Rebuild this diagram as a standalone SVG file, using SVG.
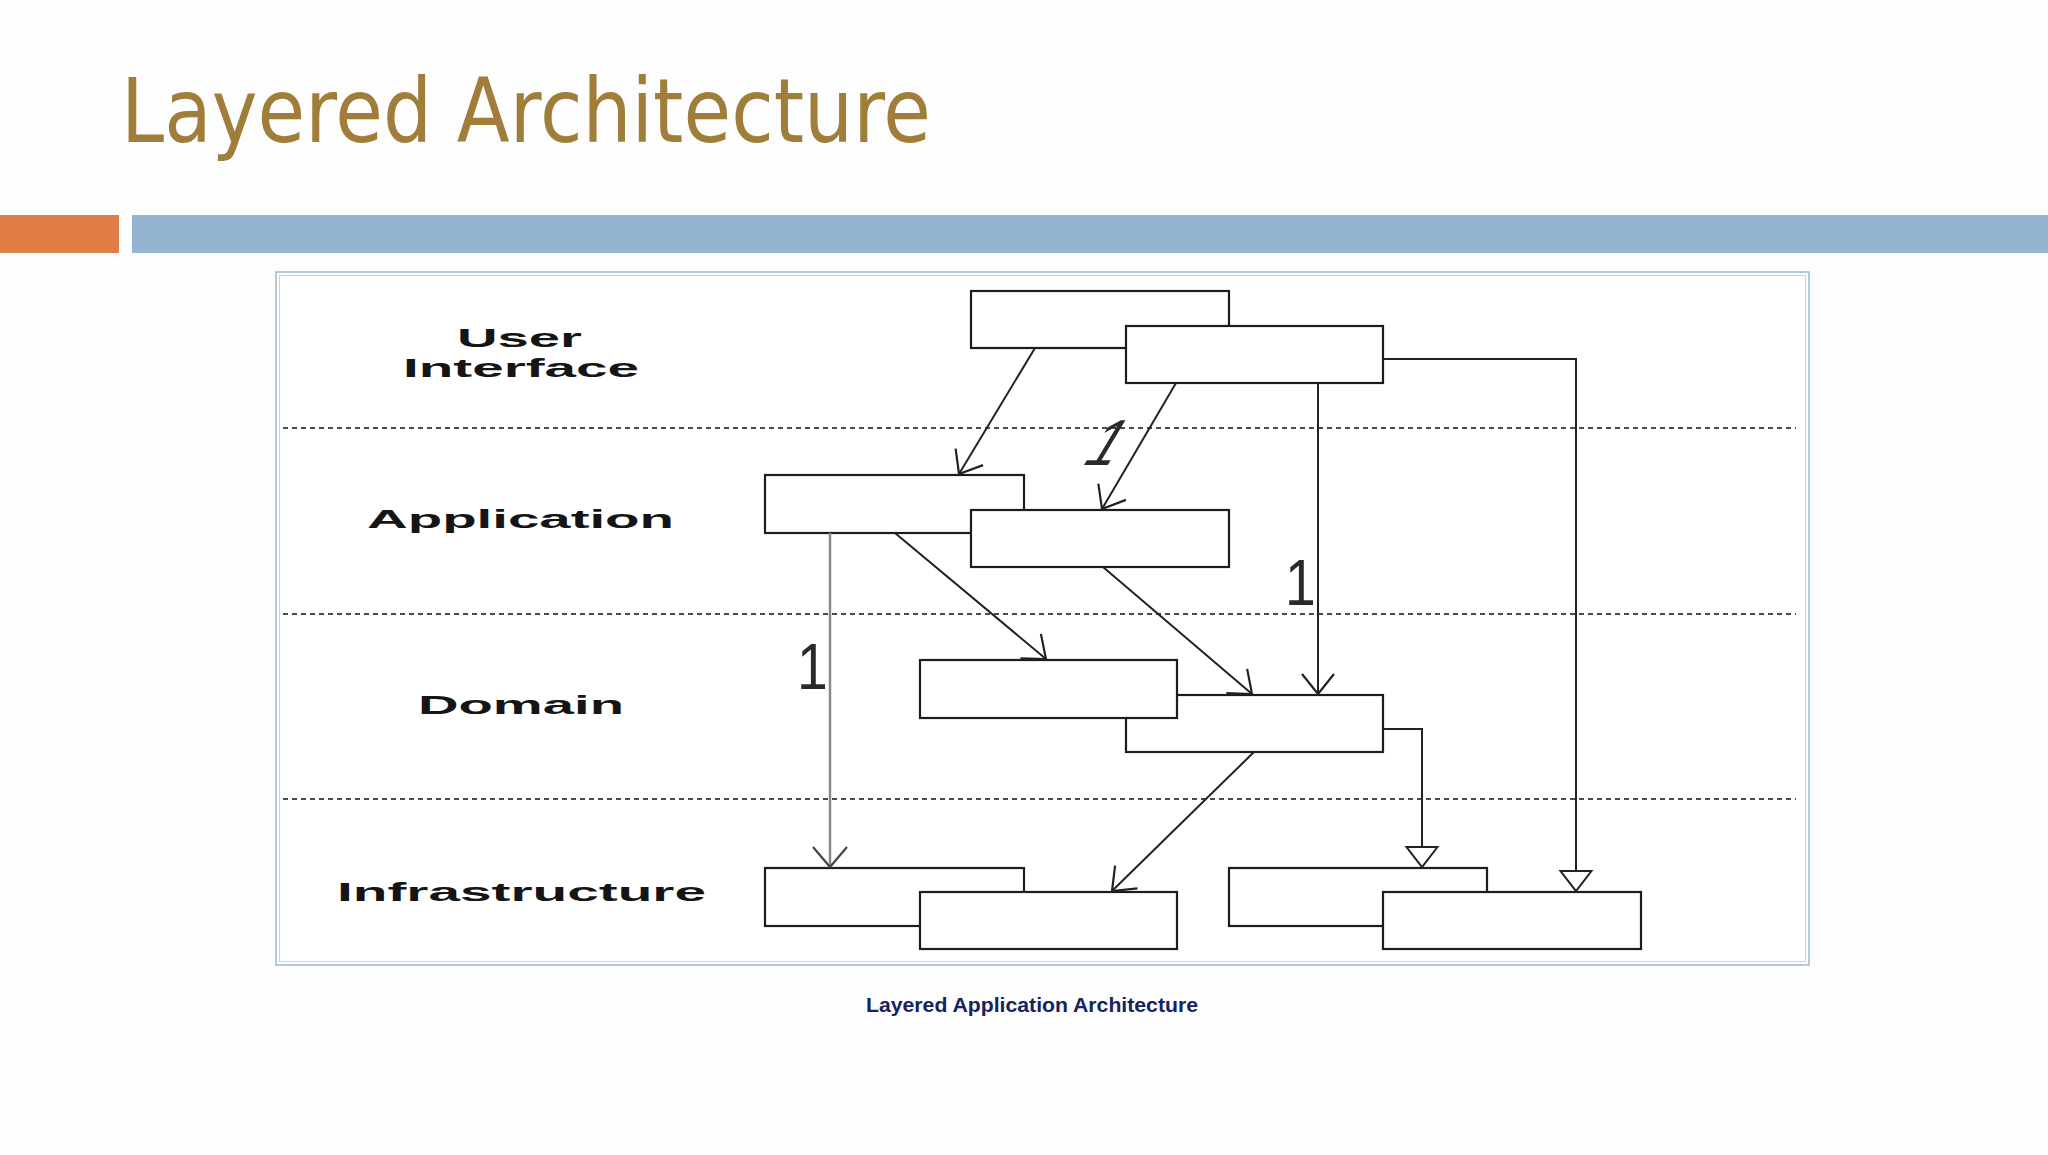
<svg xmlns="http://www.w3.org/2000/svg" width="2048" height="1155" viewBox="0 0 2048 1155">
<style>
.title{font-family:"DejaVu Sans","Liberation Sans",sans-serif;font-size:89px;fill:#A07D38}
.layer{font-family:"Liberation Sans",Arial,sans-serif;font-weight:bold;font-size:25px;fill:#151515}
.num{font-family:"Liberation Sans",Arial,sans-serif;font-size:65px;fill:#2a2a2a}
.cap{font-family:"Liberation Sans",Arial,sans-serif;font-weight:bold;font-size:21px;fill:#16235F}
.box{fill:#fff;stroke:#1c1c1c;stroke-width:2.2}
.sep{stroke:#4a4a4a;stroke-width:2;stroke-dasharray:5 4;fill:none}
.con{fill:none;stroke:#222;stroke-width:2}
.gray{fill:none;stroke:#8a8a8a;stroke-width:2.5}
</style>
<defs>
<marker id="open" markerUnits="userSpaceOnUse" viewBox="-23 -20 26 40" markerWidth="26" markerHeight="40" refX="0" refY="0" orient="auto">
<path d="M-20,-16 L0,0 L-20,16" fill="none" stroke="#222" stroke-width="2.2"/>
</marker>
<marker id="openGray" markerUnits="userSpaceOnUse" viewBox="-23 -20 26 40" markerWidth="26" markerHeight="40" refX="0" refY="0" orient="auto">
<path d="M-20,-17 L0,0 L-20,17" fill="none" stroke="#444" stroke-width="2.2"/>
</marker>
<marker id="tri" markerUnits="userSpaceOnUse" viewBox="-23 -19 26 38" markerWidth="26" markerHeight="38" refX="0" refY="0" orient="auto">
<path d="M-20,-15.5 L0,0 L-20,15.5 Z" fill="#fff" stroke="#222" stroke-width="2"/>
</marker>
</defs>
<rect x="0" y="0" width="2048" height="1155" fill="#fdfdfd"/>
<text class="title" x="121" y="142" textLength="810" lengthAdjust="spacingAndGlyphs">Layered Architecture</text>
<rect x="0" y="215" width="119" height="38" fill="#E07E45"/>
<rect x="132" y="215" width="1916" height="38" fill="#94B4D2"/>
<g id="frame">
<rect x="276" y="272" width="1533" height="693" fill="#fff" stroke="#9DB9D5" stroke-width="1.5"/>
<rect x="279.5" y="275.5" width="1526" height="686" fill="none" stroke="#C3D4E6" stroke-width="1"/>
</g>
<g id="separators">
<line class="sep" x1="283" y1="428" x2="1796" y2="428"/>
<line class="sep" x1="283" y1="614" x2="1796" y2="614"/>
<line class="sep" x1="283" y1="799" x2="1796" y2="799"/>
</g>
<g id="layer-labels">
<text class="layer" x="457" y="347" textLength="125" lengthAdjust="spacingAndGlyphs">User</text>
<text class="layer" x="403" y="377" textLength="236" lengthAdjust="spacingAndGlyphs">Interface</text>
<text class="layer" x="367" y="528" textLength="307" lengthAdjust="spacingAndGlyphs">Application</text>
<text class="layer" x="418" y="714" textLength="206" lengthAdjust="spacingAndGlyphs">Domain</text>
<text class="layer" x="337" y="901" textLength="369" lengthAdjust="spacingAndGlyphs">Infrastructure</text>
</g>
<g id="ui1"><rect class="box" x="971" y="291" width="258" height="57"/></g>
<g id="ui2"><rect class="box" x="1126" y="326" width="257" height="57"/></g>
<g id="app1"><rect class="box" x="765" y="475" width="259" height="58"/></g>
<g id="app2"><rect class="box" x="971" y="510" width="258" height="57"/></g>
<g id="dom2"><rect class="box" x="1126" y="695" width="257" height="57"/></g>
<g id="dom1"><rect class="box" x="920" y="660" width="257" height="58"/></g>
<g id="inf1"><rect class="box" x="765" y="868" width="259" height="58"/></g>
<g id="inf2"><rect class="box" x="920" y="892" width="257" height="57"/></g>
<g id="inf3"><rect class="box" x="1229" y="868" width="258" height="58"/></g>
<g id="inf4"><rect class="box" x="1383" y="892" width="258" height="57"/></g>
<g id="connectors">
<line class="con" x1="1035" y1="348" x2="959" y2="474" marker-end="url(#open)"/>
<line class="con" x1="1176" y1="383" x2="1102" y2="509" marker-end="url(#open)"/>
<line class="con" x1="1318" y1="383" x2="1318" y2="694" marker-end="url(#open)"/>
<polyline class="con" points="1383,359 1576,359 1576,891" marker-end="url(#tri)"/>
<line class="gray" x1="830" y1="533" x2="830" y2="867" marker-end="url(#openGray)"/>
<line class="con" x1="895" y1="533" x2="1046" y2="659" marker-end="url(#open)"/>
<line class="con" x1="1103" y1="567" x2="1252" y2="694" marker-end="url(#open)"/>
<line class="con" x1="1254" y1="752" x2="1112" y2="891" marker-end="url(#open)"/>
<polyline class="con" points="1383,729 1422,729 1422,867" marker-end="url(#tri)"/>
<text class="num" transform="translate(1096,465) skewX(-31) scale(0.85,1)" x="-19" y="0" font-size="58">1</text>
<text class="num" transform="translate(1285,605) scale(0.85,1)" x="0" y="0">1</text>
<text class="num" transform="translate(797,689) scale(0.85,1)" x="0" y="0">1</text>
</g>
<text class="cap" x="866" y="1012" textLength="332" lengthAdjust="spacingAndGlyphs">Layered Application Architecture</text>
</svg>
